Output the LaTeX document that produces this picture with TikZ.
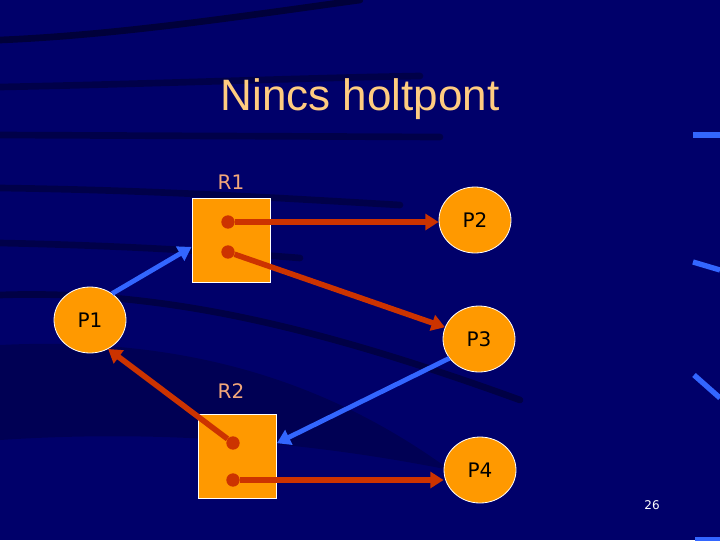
\documentclass[tikz,border=0pt]{standalone}
\usepackage{fontspec}
\setmainfont{DejaVu Sans}
\newfontfamily\titlefont{Liberation Sans}
\usetikzlibrary{positioning, arrows.meta, shapes.geometric}
\definecolor{slidebg}{HTML}{00006A}
\definecolor{boxorange}{HTML}{FF9900}
\definecolor{arrowred}{HTML}{CC3300}
\definecolor{arrowblue}{HTML}{3366FF}
\definecolor{titleyellow}{HTML}{FFCC80}
\definecolor{labelsalmon}{HTML}{F2A77A}
\tikzset{
x=0.75pt, y=-0.75pt, % one unit is one pixel of the slide, y runs downwards
>={Triangle[length=10pt, width=12pt]}, % makes the arrow heads bold
process/.style={ellipse, draw=white, line width=0.6pt, fill=boxorange, minimum width=54pt, minimum height=49.5pt, inner sep=0pt, font=\fontsize{15}{18}\selectfont}, % the P circles
resource/.style={rectangle, draw=white, line width=0.6pt, fill=boxorange, minimum width=58.5pt, minimum height=63pt}, % the R boxes
instance/.style={circle, fill=arrowred, minimum size=10pt, inner sep=0pt}, % one instance of a resource
reslabel/.style={text=labelsalmon, inner sep=0pt, font=\fontsize{15}{18}\selectfont}, % name above an R box
holds/.style={->, draw=arrowred, line width=4.2pt}, % instance given to a process
request/.style={->, draw=arrowblue, line width=3.6pt}, % process waiting for a resource
streak/.style={black, line width=5pt, opacity=0.45, line cap=round}, % dark bands of the slide background
}
\begin{document}
\begin{tikzpicture}
                \useasboundingbox (0,0) rectangle (720,540);
                \fill[slidebg] (0,0) rectangle (720,540);
                \fill[black, opacity=0.2] (0,345) .. controls (200,335) and (340,390) .. (450,470) .. controls (300,440) and (150,430) .. (0,440) -- cycle;
                \draw[streak] (0,40) .. controls (120,35) and (250,15) .. (360,0);
                \draw[streak, opacity=0.3] (0,87) .. controls (150,84) and (300,78) .. (420,76);
                \draw[streak, opacity=0.3] (0,135) -- (440,137);
                \draw[streak, opacity=0.3] (0,188) .. controls (150,190) and (280,198) .. (400,205);
                \draw[streak, opacity=0.3] (0,243) .. controls (100,245) and (200,250) .. (300,258);
                \draw[streak, opacity=0.35] (0,295) .. controls (150,290) and (300,320) .. (520,400);
                \draw[arrowblue, line width=4pt] (693,135) -- (720,135);
                \draw[arrowblue, line width=4pt] (693,262) -- (720,270);
                \draw[arrowblue, line width=4pt] (694,375) -- (720,398);
                \draw[arrowblue, line width=3pt] (695,539) -- (720,539);

                \node[text=titleyellow, anchor=base, font=\titlefont\fontsize{33}{38}\selectfont] (title) at (360,110) {Nincs holtpont};
                \node[resource] (r1) at (231,240) {};
                \node[resource] (r2) at (237.5,456) {};
                \node[reslabel] (r1_label) at (231,182) {R1};
                \node[reslabel] (r2_label) at (231,391) {R2};
                \node[instance] (r1_a) at (228,222) {};
                \node[instance] (r1_b) at (228,252) {};
                \node[instance] (r2_a) at (233,443) {};
                \node[instance] (r2_b) at (233,480) {};
                \node[process] (p1) at (90,320) {P1};
                \node[process] (p2) at (475,220) {P2};
                \node[process] (p3) at (479,339) {P3};
                \node[process] (p4) at (480,470) {P4};
                \node[text=white, font=\fontsize{9}{11}\selectfont] (page_no) at (652,505) {26};
                \draw
                    (r1_a) edge[holds] (r1_a -| p2.west)
                    (r1_b) edge[holds] (p3)
                    (r2_a) edge[holds] (p1.-58)
                    (r2_b) edge[holds] (r2_b -| p4.west)
                    (p1.50) edge[request] (r1.190)
                    (p3.213) edge[request] (r2.18)
                    ;
                \end{tikzpicture}
\end{document}
